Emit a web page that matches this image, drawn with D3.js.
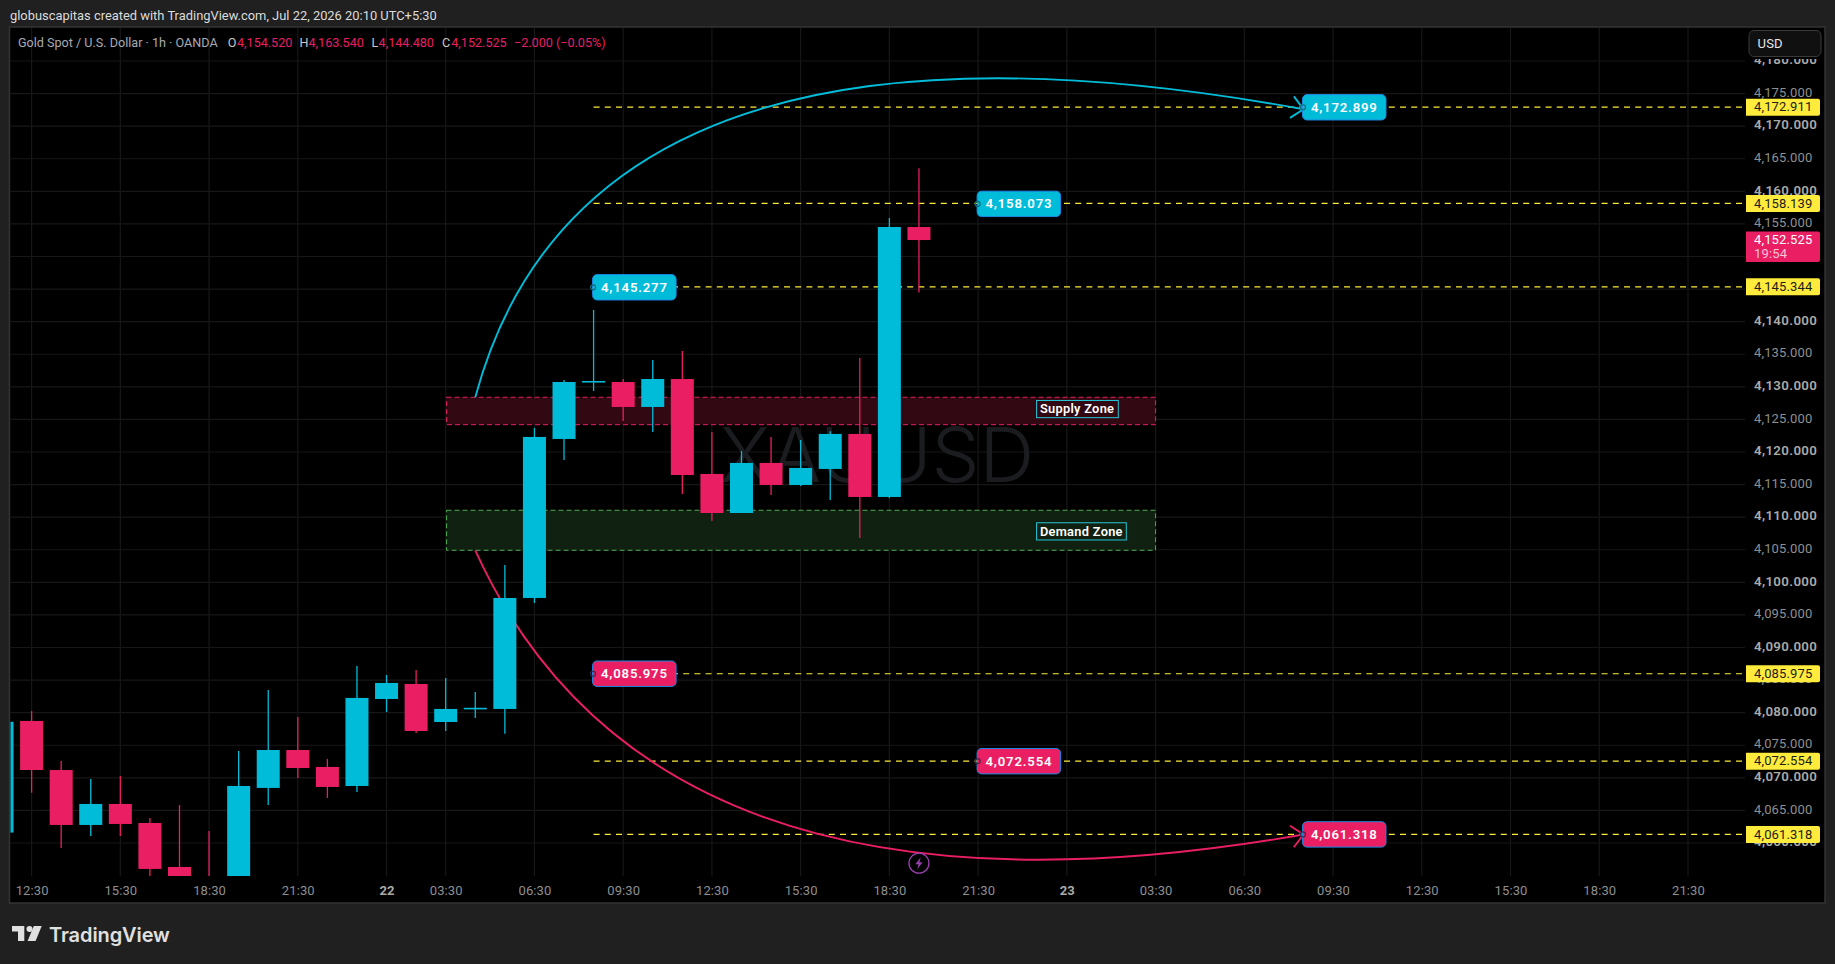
<!DOCTYPE html>
<html>
<head>
<meta charset="utf-8">
<script src="https://cdn.jsdelivr.net/npm/d3@7/dist/d3.min.js"></script>
<style>
html,body{margin:0;padding:0;background:#202020;overflow:hidden}
svg{display:block}
text{font-family:Roboto,sans-serif}
</style>
</head>
<body>
<svg id="c" width="1835" height="964"></svg>
<script>
// ---------- data ----------
const barIndex = [-1,0,1,2,3,4,5,6,7,8,9,10,11,12,13,14,15,16,17,18,19,20,21,22,23,24,25,26,27,28,29,30];
const opens  = [4061.6,4078.73,4071.2,4062.77,4065.99,4063.07,4056.32,4053.5,4052,4068.45,4074.27,4071.67,4068.75,4082.1,4084.4,4078.57,4080.6,4080.57,4097.6,4122,4130.7,4130.74,4126.91,4131.2,4116.63,4110.64,4118.32,4114.94,4117.4,4122.77,4113.1,4154.52];
const highs  = [4080,4080.26,4072.59,4069.82,4070.29,4063.84,4065.84,4061.85,4074.12,4083.48,4079.34,4072.9,4087.17,4085.78,4086.55,4085.32,4083.18,4102.66,4123.69,4131.05,4141.79,4131.2,4134.12,4135.5,4123.07,4120.16,4122.3,4121.85,4123.2,4134.43,4155.91,4163.54];
const lows   = [4060,4067.73,4059.24,4061.08,4061.08,4054.2,4048,4046,4050,4065.84,4069.98,4066.91,4067.83,4080.1,4076.88,4077.19,4079.19,4076.76,4096.83,4118.78,4129.36,4124.76,4123.07,4113.56,4109.41,4110.64,4113.4,4114.79,4112.64,4106.81,4112.95,4144.48];
const closes = [4078.6,4071.2,4062.77,4065.99,4062.92,4056.02,4050,4048,4068.75,4074.27,4071.51,4068.6,4082.26,4084.56,4077.19,4080.57,4080.75,4097.6,4122.31,4130.74,4130.9,4126.91,4131.2,4116.47,4110.64,4118.32,4114.94,4117.55,4122.77,4113.1,4154.53,4152.525];

const timeTickIndex = [0,3,6,9,12,14,17,20,23,26,29,32,35,38,41,44,47,50,53,56];
const timeTickLabels = ["12:30","15:30","18:30","21:30","22","03:30","06:30","09:30","12:30","15:30","18:30","21:30","23","03:30","06:30","09:30","12:30","15:30","18:30","21:30"];
const priceTicks = [4060,4065,4070,4075,4080,4085,4090,4095,4100,4105,4110,4115,4120,4125,4130,4135,4140,4145,4150,4155,4160,4165,4170,4175,4180];

const levelPrices  = [4172.911,4158.139,4145.344,4085.975,4072.554,4061.318];
const noteLabels   = ["4,172.899","4,158.073","4,145.277","4,085.975","4,072.554","4,061.318"];
const notePrices   = [4172.899,4158.073,4145.277,4085.975,4072.554,4061.318];
const noteIndex    = [43,32,19,19,32,43];
const noteKind     = ["up","up","up","down","down","down"];

const zoneNames  = ["Supply Zone","Demand Zone"];
const zoneTop    = [4128.4,4111.06];
const zoneBottom = [4124.19,4104.92];
const zoneStart  = 14.03;
const zoneEnd    = 38;

const curveUp   = {start:[15,4128.4], control:[18.8,4192.6], end:[43,4172.6]};
const curveDown = {start:[15,4104.9], control:[21.1,4043.9], end:[43,4061.3]};

const legendName = "Gold Spot / U.S. Dollar · 1h · OANDA";
const legendOHLC = [["O","4,154.520"],["H","4,163.540"],["L","4,144.480"],["C","4,152.525"]];
const legendChange = "−2.000 (−0.05%)";
const lastPrice = 4152.525, lastLabel = "4,152.525", countdown = "19:54";

// ---------- styles ----------
const BLUE="#00bcd9", RED="#e91e63", YEL="#ffeb3b", GRID="#171717";
const plot={l:10.5,r:1745,t:28,b:876};

const svg=d3.select("#c");
const x=d3.scaleLinear().domain([0,56]).range([31.6,1688]);
const y=d3.scaleLinear().domain([4060,4180]).range([843,61]);
const fmt=d3.format(",.3f");

svg.append("rect").attr("width",1835).attr("height",964).attr("fill","#202020");
svg.append("rect").attr("x",9.5).attr("y",27).attr("width",1815.5).attr("height",876)
   .attr("fill","#000").attr("stroke","#333").attr("stroke-width",1.5);

svg.append("text").attr("x",10).attr("y",20).attr("fill","#dcdcdc").attr("font-size",12.9)
   .text("globuscapitas created with TradingView.com, Jul 22, 2026 20:10 UTC+5:30");

const defs=svg.append("defs");
defs.append("clipPath").attr("id","plotClip").append("rect")
   .attr("x",plot.l).attr("y",plot.t).attr("width",plot.r-plot.l).attr("height",plot.b-plot.t);
defs.append("clipPath").attr("id","axisClip").append("rect")
   .attr("x",1746).attr("y",59).attr("width",79).attr("height",plot.b-59);

// grid
const grid=svg.append("g").attr("stroke",GRID).attr("stroke-width",1.2);
grid.selectAll("line.h").data(priceTicks).join("line").attr("class","h")
   .attr("x1",plot.l).attr("x2",plot.r).attr("y1",d=>y(d)).attr("y2",d=>y(d));
grid.selectAll("line.v").data(timeTickIndex).join("line").attr("class","v")
   .attr("x1",d=>x(d)).attr("x2",d=>x(d)).attr("y1",plot.t).attr("y2",plot.b);

// watermark
svg.append("text").attr("x",877).attr("y",482).attr("text-anchor","middle")
   .style("font-family","Inter,sans-serif")
   .attr("font-size",76).attr("font-weight",300).attr("fill","#1b1c20").text("XAUUSD");

const chart=svg.append("g").attr("clip-path","url(#plotClip)");

// zones
const zoneColors=[{fill:"#320813",stroke:RED},{fill:"#112111",stroke:"#4caf50"}];
zoneNames.forEach((n,i)=>{
  const x0=x(zoneStart),x1=x(zoneEnd),t=y(zoneTop[i]),b=y(zoneBottom[i]);
  chart.append("rect").attr("x",x0).attr("y",t).attr("width",x1-x0).attr("height",b-t)
    .attr("fill",zoneColors[i].fill).attr("stroke",zoneColors[i].stroke)
    .attr("stroke-width",1).attr("stroke-dasharray","5 3");
});

// dashed levels
chart.selectAll("line.lvl").data(levelPrices).join("line").attr("class","lvl")
  .attr("x1",x(19)).attr("x2",plot.r-2).attr("y1",d=>y(d)).attr("y2",d=>y(d))
  .attr("stroke",YEL).attr("stroke-width",1.2).attr("stroke-dasharray","6 5.2");

// curves
function drawCurve(c,col){
  const p0=[x(c.start[0]),y(c.start[1])],pc=[x(c.control[0]),y(c.control[1])],p1=[x(c.end[0]),y(c.end[1])];
  const p=d3.path(); p.moveTo(p0[0],p0[1]); p.quadraticCurveTo(pc[0],pc[1],p1[0],p1[1]);
  chart.append("path").attr("d",p.toString()).attr("fill","none").attr("stroke",col).attr("stroke-width",1.9);
  const a=Math.atan2(p1[1]-pc[1],p1[0]-pc[0]), len=16, sp=0.75;
  const h=d3.path();
  h.moveTo(p1[0]-len*Math.cos(a-sp),p1[1]-len*Math.sin(a-sp));
  h.lineTo(p1[0],p1[1]);
  h.lineTo(p1[0]-len*Math.cos(a+sp),p1[1]-len*Math.sin(a+sp));
  chart.append("path").attr("d",h.toString()).attr("fill","none").attr("stroke",col).attr("stroke-width",1.9);
}
drawCurve(curveUp,BLUE);
drawCurve(curveDown,RED);

// candles
const bw=23;
const cand=chart.append("g").selectAll("g").data(barIndex).join("g");
const colr=i=>closes[i]>=opens[i]?BLUE:RED;
cand.append("line")
  .attr("x1",d=>x(d)).attr("x2",d=>x(d))
  .attr("y1",(d,i)=>y(highs[i])).attr("y2",(d,i)=>y(lows[i]))
  .attr("stroke",(d,i)=>colr(i)).attr("stroke-width",1.3);
cand.append("rect")
  .attr("x",d=>x(d)-bw/2).attr("width",bw)
  .attr("y",(d,i)=>y(Math.max(opens[i],closes[i])))
  .attr("height",(d,i)=>Math.max(1.6,Math.abs(y(opens[i])-y(closes[i]))))
  .attr("fill",(d,i)=>colr(i));

// zone labels
zoneNames.forEach((n,i)=>{
  const cy=(y(zoneTop[i])+y(zoneBottom[i]))/2+(i==0?-2:1);
  const w=i==0?81.7:89.7;
  svg.append("rect").attr("x",x(zoneEnd)-119).attr("y",cy-8.5).attr("width",w).attr("height",17.2)
    .attr("fill","none").attr("stroke","#26c6da").attr("stroke-width",1);
  svg.append("text").attr("x",x(zoneEnd)-115.7).attr("y",cy+4.5).attr("fill","#fff")
    .attr("font-size",12.8).attr("font-weight",600).attr("letter-spacing",0.3).text(n);
});

// price notes
notePrices.forEach((p,i)=>{
  const col=noteKind[i]=="up"?BLUE:RED, x0=x(noteIndex[i])-1, cy=y(p);
  svg.append("rect").attr("x",x0).attr("y",cy-12.7).attr("width",83.5).attr("height",25.4).attr("rx",4.5)
    .attr("fill",col).attr("stroke","#1e88e5").attr("stroke-width",1);
  svg.append("circle").attr("cx",x0+0.5).attr("cy",cy).attr("r",2.5).attr("fill","none")
    .attr("stroke",noteKind[i]=="up"?"#0d6b73":"#3a2a4a").attr("stroke-width",1.2);
  svg.append("text").attr("x",x0+41.8).attr("y",cy+4.6).attr("text-anchor","middle").attr("fill","#fff")
    .attr("font-size",13.2).attr("font-weight",600).attr("letter-spacing",0.8).text(noteLabels[i]);
});

// lightning marker
const mk=svg.append("g").attr("transform",`translate(${x(30)},${y(4056.9)})`);
mk.append("circle").attr("r",10).attr("fill","#000").attr("stroke","#9c40b0").attr("stroke-width",1.3);
mk.append("path").attr("d","M1.8,-6 L-3.6,1 L-0.4,1 L-1.8,6 L3.6,-1 L0.4,-1 Z").attr("fill","#9c40b0");

// price axis
const yAxis=d3.axisRight(y).tickValues(priceTicks).tickSize(0).tickPadding(0).tickFormat(fmt);
const ya=svg.append("g").attr("clip-path","url(#axisClip)").append("g")
  .attr("transform","translate(1754,-1.7)").call(yAxis);
ya.select(".domain").remove();
ya.selectAll("text").attr("x",0).attr("dy","0.34em").attr("font-family","Roboto,sans-serif")
  .attr("font-size",d=>d%10==0?13.3:13).attr("font-weight",d=>d%10==0?600:400)
  .attr("letter-spacing",d=>d%10==0?0.35:0.15)
  .attr("fill",d=>d%10==0?"#aaaaaa":"#8f8f8f");

// time axis
const xAxis=d3.axisBottom(x).tickValues(timeTickIndex).tickSize(0).tickPadding(0)
  .tickFormat((d,i)=>timeTickLabels[i]);
const xa=svg.append("g").attr("transform","translate(0,886)").call(xAxis);
xa.select(".domain").remove();
xa.selectAll("text").attr("y",0).attr("dy","0.71em").attr("font-family","Roboto,sans-serif")
  .attr("font-size",13).attr("letter-spacing",0.1)
  .attr("font-weight",(d,i)=>timeTickLabels[i].length==2?700:400)
  .attr("fill",(d,i)=>timeTickLabels[i].length==2?"#aaaaaa":"#8f8f8f");

// USD button
svg.append("rect").attr("x",1749).attr("y",30.5).attr("width",72).attr("height",26).attr("rx",5)
  .attr("fill","#101010").attr("stroke","#3a3a3a").attr("stroke-width",1);
svg.append("text").attr("x",1757.5).attr("y",48).attr("fill","#e6e6e6").attr("font-size",13).attr("letter-spacing",0.2).text("USD");

// level tags
levelPrices.forEach(p=>{
  const cy=y(p);
  svg.append("path").attr("fill",YEL)
    .attr("d",`M1746,${cy-8.5}H1818a2,2 0 0 1 2,2V${cy+6.5}a2,2 0 0 1 -2,2H1746Z`);
  svg.append("text").attr("x",1754).attr("y",cy+4.2).attr("fill","#1c1c1c").attr("font-size",13).attr("letter-spacing",0.15).text(fmt(p));
});

// last price tag
const lp=y(lastPrice);
svg.append("path").attr("fill",RED)
  .attr("d",`M1746,${lp-8.5}H1818a2,2 0 0 1 2,2V${lp+20}a2,2 0 0 1 -2,2H1746Z`);
svg.append("text").attr("x",1754).attr("y",lp+3.8).attr("fill","#fff").attr("font-size",13).attr("letter-spacing",0.15).text(lastLabel);
svg.append("text").attr("x",1754).attr("y",lp+18).attr("fill","#f8c3d6").attr("font-size",13).attr("letter-spacing",0.15).text(countdown);

// legend
const lg=svg.append("g").attr("font-size",12.6);
lg.append("text").attr("x",18).attr("y",47).attr("fill","#a9abb2").text(legendName);
const legendX=[227.7,299.5,371.4,442];
const legendValX=[237,308.5,378.6,451.3];
legendOHLC.forEach((o,i)=>{
  lg.append("text").attr("x",legendX[i]).attr("y",47).attr("fill","#c8c8c8").text(o[0]);
  lg.append("text").attr("x",legendValX[i]).attr("y",47).attr("fill",RED).text(o[1]);
});
lg.append("text").attr("x",514).attr("y",47).attr("fill",RED).text(legendChange);

// logo
const lo=svg.append("g").attr("fill","#e0e0e0");
lo.append("path").attr("d","M12,926H24.3V941H18V931.5H12Z");
lo.append("circle").attr("cx",29.5).attr("cy",929).attr("r",3);
lo.append("path").attr("d","M33.8,926H41.7L35.6,941H27.6Z");
svg.append("text").attr("x",49).attr("y",942).attr("fill","#e0e0e0").style("font-family","Inter,sans-serif")
  .attr("font-size",20).attr("font-weight",600).attr("letter-spacing",-0.1).text("TradingView");
</script>
</body>
</html>
